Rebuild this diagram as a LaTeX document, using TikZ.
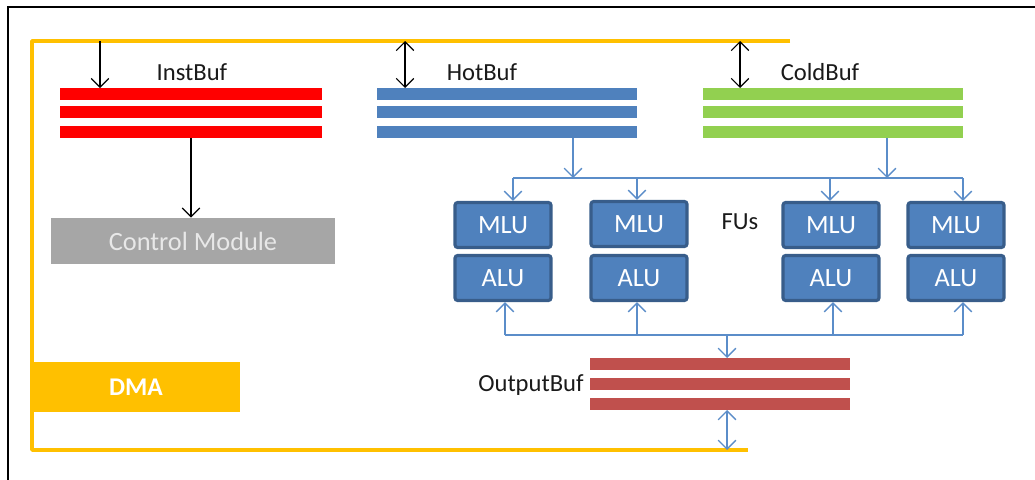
\documentclass[tikz,border=0pt]{standalone}
\usepackage{fontspec}
\setmainfont{Carlito}
\usetikzlibrary{arrows.meta}
\definecolor{busyellow}{HTML}{FFC000}
\definecolor{instred}{HTML}{FF0000}
\definecolor{hotblue}{HTML}{4F81BD}
\definecolor{coldgreen}{HTML}{92D050}
\definecolor{outred}{HTML}{C0504D}
\definecolor{fuborder}{HTML}{385D8A}
\definecolor{fufill}{HTML}{4F81BD}
\definecolor{flow}{HTML}{5B8DC9}
\definecolor{cmgray}{HTML}{A6A6A6}
\definecolor{cmtext}{HTML}{E8E8E8}
\definecolor{labeltext}{HTML}{1A1A1A}
\tikzset{
  bar/.style={draw=none, minimum width=5.2cm, minimum height=0.24cm, inner sep=0pt, outer sep=0pt},
  fu/.style={draw=fuborder, fill=fufill, line width=1.8pt, rounded corners=1.5pt,
    minimum width=1.92cm, minimum height=0.9cm, inner sep=0pt, text=white,
    font=\fontsize{15}{17}\selectfont},
  lbl/.style={text=labeltext, font=\fontsize{14}{16}\selectfont, inner sep=0pt},
  bus/.style={draw=busyellow, line width=2pt, line join=round},
  ctl/.style={draw=black, line width=0.7pt, -{Straight Barb[length=5pt,width=10pt]}},
  ctlboth/.style={draw=black, line width=0.7pt, {Straight Barb[length=5pt,width=10pt]}-{Straight Barb[length=5pt,width=10pt]}},
  feed/.style={draw=flow, line width=0.8pt, -{Straight Barb[length=5pt,width=10pt]}},
  feedboth/.style={draw=flow, line width=0.8pt, {Straight Barb[length=5pt,width=10pt]}-{Straight Barb[length=5pt,width=10pt]}},
  flowline/.style={draw=flow, line width=0.8pt},
}
\begin{document}
\begin{tikzpicture}[x=0.02cm, y=-0.02cm]
\useasboundingbox (0,0) rectangle (1035,480);

% outer frame (top and left edges)
\draw[line width=1.2pt] (1035,7) -- (8,7) -- (8,480);

% system bus
\draw[bus] (790,41) -- (32,41) -- (32,450) -- (748,450);

% DMA engine
\node[fill=busyellow, minimum width=4.16cm, minimum height=1cm, inner sep=0pt,
      text=white, font=\fontsize{14.5}{16}\selectfont\bfseries] (dma) at (136,387) {DMA};

% instruction buffer
\node[bar, fill=instred, minimum width=5.24cm] (ib1) at (191,94) {};
\node[bar, fill=instred, minimum width=5.24cm] (ib2) at (191,112) {};
\node[bar, fill=instred, minimum width=5.24cm] (ib3) at (191,132) {};
\node[lbl] (ibl) at (192,72) {InstBuf};

% hot buffer
\node[bar, fill=hotblue] (hb1) at (507,94) {};
\node[bar, fill=hotblue] (hb2) at (507,112) {};
\node[bar, fill=hotblue] (hb3) at (507,132) {};
\node[lbl] (hbl) at (482,72) {HotBuf};

% cold buffer
\node[bar, fill=coldgreen] (cb1) at (833,94) {};
\node[bar, fill=coldgreen] (cb2) at (833,112) {};
\node[bar, fill=coldgreen] (cb3) at (833,132) {};
\node[lbl] (cbl) at (820,72) {ColdBuf};

% control module
\node[fill=cmgray, minimum width=5.68cm, minimum height=0.92cm, inner sep=0pt,
      text=cmtext, font=\fontsize{15}{17}\selectfont] (cm) at (193,241) {Control Module};

% functional units
\node[fu] (m1) at (503,225) {MLU};
\node[fu] (a1) at (503,278) {ALU};
\node[fu] (m2) at (639,224) {MLU};
\node[fu] (a2) at (639,278) {ALU};
\node[fu] (m3) at (831,225) {MLU};
\node[fu] (a3) at (831,278) {ALU};
\node[fu] (m4) at (956,225) {MLU};
\node[fu] (a4) at (956,278) {ALU};
\node[lbl] (ful) at (740,222) {FUs};

% output buffer
\node[bar, fill=outred] (ob1) at (720,364) {};
\node[bar, fill=outred] (ob2) at (720,384) {};
\node[bar, fill=outred] (ob3) at (720,404) {};
\node[lbl, anchor=east] (obl) at (584,385) {OutputBuf};

% bus taps
\coordinate (iin) at (100,41);
\coordinate (hin) at (405,41);
\coordinate (cin) at (740,41);
\coordinate (oout) at (727,450);

\draw[ctl] (iin) -- (iin |- ib1.north);
\draw[ctl] (ib3.south) -- (ib3.south |- cm.north);
\draw[ctlboth] (hin) -- (hin |- hb1.north);
\draw[ctlboth] (cin) -- (cin |- cb1.north);

% operand distribution to the FUs
\coordinate (fh) at (573,178);
\coordinate (fc) at (887,178);
\coordinate (d1) at (513,178);
\coordinate (d2) at (637,178);
\coordinate (d3) at (830,178);
\coordinate (d4) at (963,178);
\draw[flowline] (d1) -- (d4);
\draw[feed] (hb3.south -| fh) -- (fh);
\draw[feed] (cb3.south -| fc) -- (fc);
\draw[feed] (d1) -- (d1 |- m1.north);
\draw[feed] (d2) -- (d2 |- m2.north);
\draw[feed] (d3) -- (d3 |- m3.north);
\draw[feed] (d4) -- (d4 |- m4.north);

% result collection from the FUs
\coordinate (u1) at (505,335);
\coordinate (u2) at (637,335);
\coordinate (u3) at (833,335);
\coordinate (u4) at (963,335);
\coordinate (uo) at (727,335);
\draw[flowline] (u1) -- (u4);
\draw[feed] (u1) -- (u1 |- a1.south);
\draw[feed] (u2) -- (u2 |- a2.south);
\draw[feed] (u3) -- (u3 |- a3.south);
\draw[feed] (u4) -- (u4 |- a4.south);
\draw[feed] (uo) -- (uo |- ob1.north);
\draw[feedboth] (ob3.south -| oout) -- (oout);
\end{tikzpicture}
\end{document}
